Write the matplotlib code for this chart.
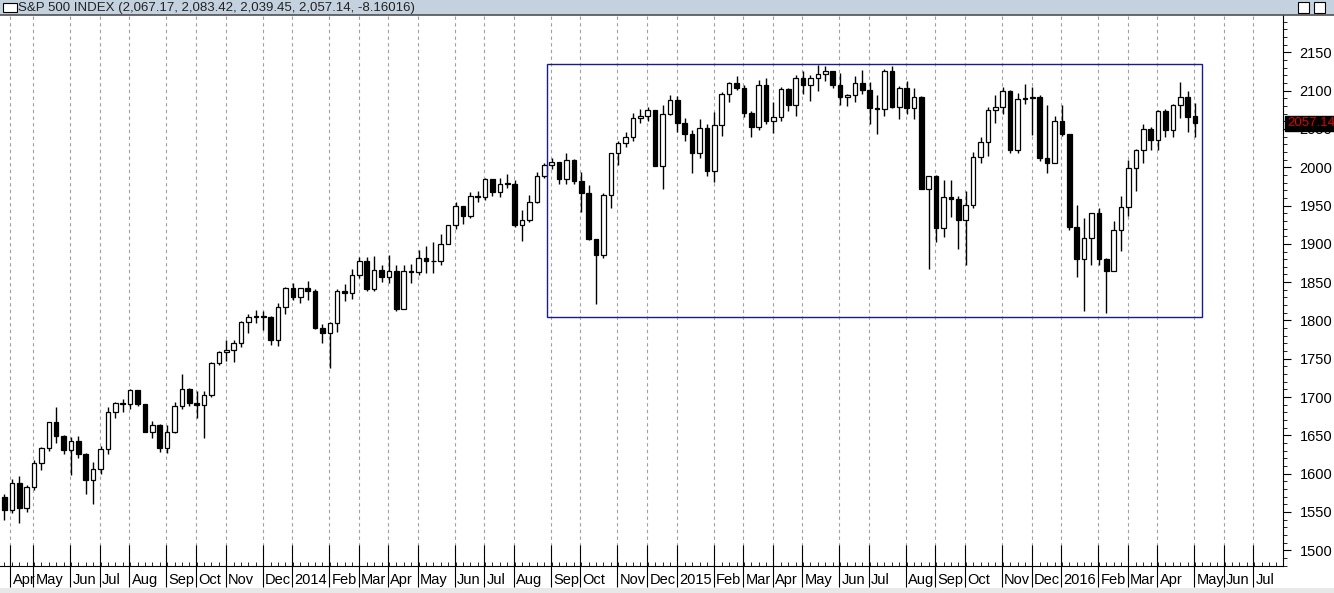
import numpy as np
import pandas as pd
import matplotlib.pyplot as plt
from matplotlib.patches import Rectangle
import matplotlib.transforms as mtransforms

# --- weekly OHLC, S&P 500, Apr 2013 -> May 2016 ---
opens = [1569,1553,1588,1555,1582,1614,1633,1667,1649,1631,1643,1626,1592,1606,1632,1680,1692,1691,1709,1691,1655,1664,1633,1655,1688,1710,1692,1690,1703,1745,1759,1762,1770,1798,1805,1806,1805,1775,1818,
         1842,1831,1842,1838,1790,1783,1797,1838,1836,1859,1878,1841,1866,1857,1865,1815,1864,1863,1881,1878,1877,1900,1924,1949,1936,1963,1961,1985,1968,1978,1978,1925,1931,1955,1988,2003,2007,1985,2010,1982,1967,1906,1886,1964,2018,2032,2039,2064,2067,2075,2002,2070,
         2088,2058,2044,2019,2051,1995,2055,2096,2110,2104,2071,2053,2108,2061,2066,2102,2081,2117,2108,2116,2122,2126,2107,2092,2094,2110,2101,2077,2076,2126,2079,2104,2077,2092,1971,1988,1921,1961,1958,1931,1951,2014,2033,2075,2079,2099,2023,2089,2090,2092,2012,2006,2061,
         2044,1922,1880,1907,1940,1880,1865,1918,1948,1999,2022,2050,2035,2073,2048,2081,2092,2067.17]
highs = [1573,1593,1597,1585,1618,1635,1667,1687,1651,1648,1649,1627,1615,1636,1687,1694,1698,1710,1709,1691,1669,1665,1664,1694,1730,1712,1708,1708,1746,1760,1775,1774,1799,1808,1813,1812,1806,1823,1844,
         1849,1843,1851,1841,1795,1798,1841,1847,1867,1883,1883,1884,1873,1886,1872,1872,1874,1892,1897,1902,1913,1925,1955,1950,1968,1969,1986,1985,1986,1991,1984,1944,1964,1994,2006,2012,2007,2019,2011,1994,1977,1906,1966,2019,2034,2046,2071,2076,2079,2075,2081,2094,
         2093,2064,2049,2063,2057,2072,2098,2111,2119,2107,2073,2114,2117,2085,2105,2103,2121,2126,2120,2134,2132,2126,2123,2096,2119,2127,2111,2094,2128,2132,2106,2113,2103,2093,1989,1990,1983,1984,1962,1969,2020,2039,2079,2094,2105,2101,2097,2109,2105,2094,2081,2067,2081,
         2044,1951,1934,1940,1947,1881,1930,1962,2009,2024,2057,2053,2075,2076,2083,2111,2099,2083.42]
lows = [1540,1548,1536,1550,1578,1605,1630,1640,1625,1598,1621,1573,1560,1599,1626,1672,1680,1684,1688,1654,1647,1628,1627,1653,1685,1688,1672,1646,1700,1742,1747,1746,1765,1783,1797,1788,1768,1767,1809,
        1827,1823,1827,1789,1771,1738,1785,1825,1828,1856,1839,1838,1850,1849,1812,1816,1849,1859,1862,1862,1872,1905,1919,1926,1934,1954,1957,1962,1961,1973,1922,1904,1928,1953,1986,1998,1978,1978,1978,1941,1905,1821,1881,1947,2003,2026,2034,2058,2061,2002,1972,2068,
        2046,2034,1992,2012,1989,1981,2041,2085,2101,2066,2040,2049,2056,2045,2061,2074,2067,2095,2086,2100,2113,2103,2081,2080,2085,2095,2056,2044,2067,2077,2063,2070,2063,1971,1867,1903,1909,1935,1893,1872,1947,2006,2015,2058,2070,2019,2019,2082,2042,2008,1993,2005,2041,
        1918,1857,1812,1872,1872,1810,1865,1891,1937,1969,2005,2022,2023,2039,2039,2064,2046,2039.45]
closes = [1553,1588,1555,1582,1614,1633,1667,1649,1631,1643,1626,1592,1606,1632,1680,1692,1691,1709,1691,1655,1664,1633,1655,1688,1710,1692,1690,1703,1745,1759,1762,1770,1798,1805,1806,1805,1775,1818,1842,
          1831,1842,1838,1790,1783,1797,1838,1836,1859,1878,1841,1866,1857,1865,1815,1864,1863,1881,1878,1877,1900,1924,1949,1936,1963,1961,1985,1968,1978,1978,1925,1931,1955,1988,2003,2007,1985,2010,1982,1967,1906,1886,1964,2018,2032,2039,2064,2067,2075,2002,2070,2088,
          2058,2044,2019,2051,1995,2055,2096,2110,2104,2071,2053,2108,2061,2066,2102,2081,2117,2108,2116,2122,2126,2107,2092,2094,2110,2101,2077,2076,2126,2079,2104,2077,2092,1971,1988,1921,1961,1958,1931,1951,2014,2033,2075,2079,2099,2023,2089,2090,2092,2012,2006,2061,2044,
          1922,1880,1907,1940,1880,1865,1918,1948,1999,2022,2050,2035,2073,2048,2081,2092,2065,2057.14]

y_ticks = [1500,1550,1600,1650,1700,1750,1800,1850,1900,1950,2000,2050,2100,2150]
range_box = (1804, 2135)   # consolidation box, price bounds
last_label = "2057.140"

dates = pd.date_range("2013-04-05", periods=len(closes), freq="W-FRI")
n = len(closes)

fig = plt.figure(figsize=(13.34, 5.93), dpi=100)
fig.patch.set_facecolor("white")
ax = fig.add_axes([0.0, 0.045, 1283/1334, 0.93])
ax.set_facecolor("white")

x = np.arange(n)
w = 0.62
for i in range(n):
    o, h, l, c = opens[i], highs[i], lows[i], closes[i]
    ax.vlines(x[i], l, h, color="black", lw=1, zorder=3)
    bot, top = min(o, c), max(o, c)
    fill = "white" if c >= o else "black"
    ax.add_patch(Rectangle((x[i] - w/2, bot), w, max(top - bot, 0.8),
                           facecolor=fill, edgecolor="black", lw=0.9, zorder=4))

# extra months after the data
ext = pd.date_range(dates[-1] + pd.Timedelta(days=7), periods=12, freq="W-FRI")
all_dates = dates.append(ext)

# month ticks at first week of each month
mpos, mlab = [0.8], ["Apr"]
for i in range(1, len(all_dates)):
    if all_dates[i].month != all_dates[i-1].month:
        mpos.append(i - 0.1)
        mlab.append(str(all_dates[i].year) if all_dates[i].month == 1 else all_dates[i].strftime("%b"))

ax.set_xlim(-0.6, 172.9)
ax.set_ylim(1479, 2199)
for p in mpos:
    ax.axvline(p, color="#a0a0a0", ls=(0, (3, 3)), lw=0.8, zorder=1)

ax.set_xticks(mpos)
ax.set_xticklabels([])
ax.set_xticks(np.arange(0, 173), minor=True)
ax.tick_params(axis="x", which="major", direction="inout", length=30, width=0.8)
ax.tick_params(axis="x", which="minor", direction="in", length=3, width=0.6)
trans = mtransforms.blended_transform_factory(ax.transData, fig.transFigure)
for p, lab in zip(mpos, mlab):
    ax.text(p + 0.3, 0.022, lab, transform=trans, fontsize=10.5, family="Liberation Sans",
            ha="left", va="center")

ax.yaxis.tick_right()
ax.set_yticks(y_ticks)
ax.set_yticks(np.arange(1480, 2200, 10), minor=True)
ax.tick_params(axis="y", which="major", direction="out", length=6, labelsize=10.5, pad=6)
ax.tick_params(axis="y", which="minor", direction="out", length=3)
for t in ax.get_yticklabels():
    t.set_family("Liberation Sans")
for s in ["top", "left"]:
    ax.spines[s].set_visible(False)

# consolidation box
ax.add_patch(Rectangle((73.4, range_box[0]), 161.9 - 73.4, range_box[1] - range_box[0],
                       fill=False, edgecolor="#1a1a8c", lw=1, zorder=5))

# last price label
ax.text(1.003, 2057.14, last_label, transform=mtransforms.blended_transform_factory(ax.transAxes, ax.transData),
        color="#e00000", fontsize=9.5, family="Liberation Sans", va="center", ha="left",
        bbox=dict(boxstyle="square,pad=0.12", fc="black", ec="black"), clip_on=False, zorder=10)

# title bar
fig.patches.append(Rectangle((0, 1 - 15/593), 1, 15/593, transform=fig.transFigure,
                             facecolor="#c4d2e0", edgecolor="none"))
fig.patches.append(Rectangle((3/1334, 1 - 12/593), 14/1334, 9/593, transform=fig.transFigure,
                             facecolor="white", edgecolor="black", lw=0.8))
fig.text(18/1334, 1 - 7.5/593, "S&P 500 INDEX (2,067.17, 2,083.42, 2,039.45, 2,057.14, -8.16016)",
         fontsize=9.5, family="Liberation Sans", va="center", ha="left", color="#222222")
for bx in (1298, 1314):
    fig.patches.append(Rectangle((bx/1334, 1 - 13/593), 11/1334, 11/593, transform=fig.transFigure,
                                 facecolor="white", edgecolor="black", lw=0.8))
fig.add_artist(plt.Line2D([0, 1], [1 - 15/593] * 2, color="#505050", lw=1.2, transform=fig.transFigure))
fig.patches.append(Rectangle((0, 0), 1, 5/593, transform=fig.transFigure, facecolor="#e8e8e8", edgecolor="none"))

fig.savefig("out.png", dpi=100)
